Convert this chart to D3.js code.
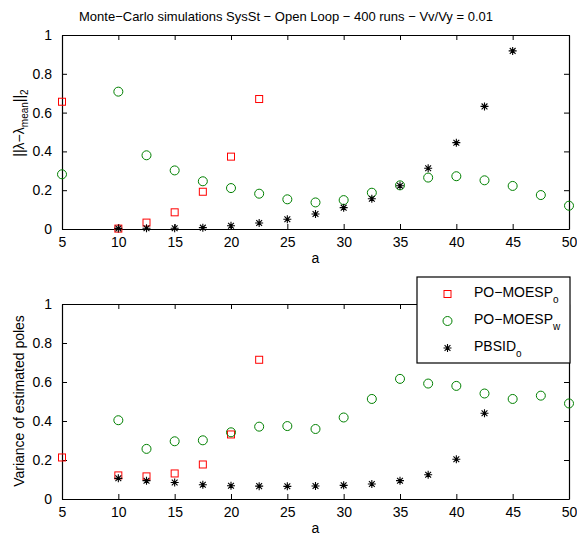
<!DOCTYPE html>
<html>
<head>
<meta charset="utf-8">
<title>Monte-Carlo simulations</title>
<script src="https://d3js.org/d3.v7.min.js"></script>
<style>
body { margin: 0; background: #fff; }
text { font-family: "Liberation Sans", Arial, sans-serif; fill: #000; }
</style>
</head>
<body>
<div id="chart"></div>
<script>

// horizon values a
var aVals = [5, 10, 12.5, 15, 17.5, 20, 22.5, 25, 27.5, 30, 32.5, 35, 37.5, 40, 42.5, 45, 47.5, 50];

// top panel: ||lambda - lambda_mean||_2
var normMoespO = [0.656, 0.002, 0.033, 0.086, 0.192, 0.373, 0.670, null, null, null, null, null, null, null, null, null, null, null];
var normMoespW = [0.282, 0.708, 0.380, 0.302, 0.246, 0.211, 0.182, 0.153, 0.137, 0.149, 0.187, 0.225, 0.265, 0.272, 0.251, 0.222, 0.175, 0.120];
var normPbsid  = [null, 0.003, 0.004, 0.004, 0.007, 0.017, 0.031, 0.050, 0.077, 0.110, 0.156, 0.223, 0.313, 0.445, 0.632, 0.918, null, null];

// bottom panel: variance of estimated poles
var varMoespO = [0.213, 0.121, 0.116, 0.131, 0.177, 0.331, 0.714, null, null, null, null, null, null, null, null, null, null, null];
var varMoespW = [null, 0.404, 0.257, 0.296, 0.301, 0.342, 0.371, 0.374, 0.359, 0.418, 0.513, 0.616, 0.592, 0.580, 0.541, 0.513, 0.530, 0.490];
var varPbsid  = [null, 0.106, 0.094, 0.085, 0.073, 0.068, 0.066, 0.065, 0.067, 0.070, 0.077, 0.094, 0.124, 0.204, 0.440, null, null, null];

var xTicks = [5, 10, 15, 20, 25, 30, 35, 40, 45, 50];
var yTicks = [0, 0.2, 0.4, 0.6, 0.8, 1];

var width = 577, height = 535;
var left = 62, right = 569;

var svg = d3.select("#chart").append("svg")
  .attr("width", width)
  .attr("height", height);

var x = d3.scaleLinear().domain([5, 50]).range([left, right]);

// marker drawers
function square(g, cx, cy) {
  g.append("rect").attr("x", cx - 3.5).attr("y", cy - 3.5)
    .attr("width", 7).attr("height", 7)
    .attr("fill", "none").attr("stroke", "#ff0000").attr("stroke-width", 1);
}
function circle(g, cx, cy) {
  g.append("circle").attr("cx", cx).attr("cy", cy).attr("r", 4.5)
    .attr("fill", "none").attr("stroke", "#008000").attr("stroke-width", 1);
}
function star(g, cx, cy) {
  var r = 4, d = 2.9;
  g.append("path")
    .attr("d", "M" + (cx - r) + "," + cy + "H" + (cx + r) +
               "M" + cx + "," + (cy - r) + "V" + (cy + r) +
               "M" + (cx - d) + "," + (cy - d) + "L" + (cx + d) + "," + (cy + d) +
               "M" + (cx - d) + "," + (cy + d) + "L" + (cx + d) + "," + (cy - d))
    .attr("stroke", "#000").attr("stroke-width", 1.1).attr("fill", "none");
}

function panel(top, bottom, series, ylabel) {
  var y = d3.scaleLinear().domain([0, 1]).range([bottom, top]);
  var g = svg.append("g");

  g.append("rect").attr("x", left).attr("y", top)
    .attr("width", right - left).attr("height", bottom - top)
    .attr("fill", "#fff");

  var axB = g.append("g").attr("transform", "translate(0," + bottom + ")")
    .call(d3.axisBottom(x).tickValues(xTicks).tickSizeInner(-5).tickSizeOuter(0).tickPadding(8).tickFormat(d3.format("d")));
  var axT = g.append("g").attr("transform", "translate(0," + top + ")")
    .call(d3.axisTop(x).tickValues(xTicks).tickSizeInner(-5).tickSizeOuter(0).tickFormat(""));
  var axL = g.append("g").attr("transform", "translate(" + left + ",0)")
    .call(d3.axisLeft(y).tickValues(yTicks).tickSizeInner(-5).tickSizeOuter(0).tickPadding(10).tickFormat(function(d) { return d3.format("")(d); }));
  var axR = g.append("g").attr("transform", "translate(" + right + ",0)")
    .call(d3.axisRight(y).tickValues(yTicks).tickSizeInner(-5).tickSizeOuter(0).tickFormat(""));

  [axB, axT, axL, axR].forEach(function(a) {
    a.selectAll(".domain").attr("stroke", "#000").attr("stroke-width", 1.2);
    a.selectAll(".tick line").attr("stroke", "#000");
    a.selectAll("text").attr("font-size", 14).attr("font-family", "Liberation Sans, Arial, sans-serif").attr("fill", "#000");
  });

  series.forEach(function(s) {
    s.values.forEach(function(v, i) {
      if (v === null) return;
      s.draw(g, x(aVals[i]), y(v));
    });
  });

  g.append("text").attr("x", (left + right) / 2).attr("y", bottom + 34)
    .attr("text-anchor", "middle").attr("font-size", 14).text("a");

  return g;
}

svg.append("text").attr("x", 286).attr("y", 21)
  .attr("text-anchor", "middle").attr("font-size", 13)
  .text("Monte\u2212Carlo simulations SysSt \u2212 Open Loop \u2212 400 runs \u2212 Vv/Vy = 0.01");

panel(35, 229, [
  { values: normMoespO, draw: square },
  { values: normMoespW, draw: circle },
  { values: normPbsid,  draw: star }
]);

panel(304, 499, [
  { values: varMoespO, draw: square },
  { values: varMoespW, draw: circle },
  { values: varPbsid,  draw: star }
]);

// y labels
var yl1 = svg.append("text").attr("transform", "translate(24,123) rotate(-90)")
  .attr("text-anchor", "middle").attr("font-size", 14);
yl1.append("tspan").text("||\u03bb\u2212\u03bb");
yl1.append("tspan").attr("font-size", 10).attr("dy", 4).text("mean");
yl1.append("tspan").attr("dy", -4).text("||");
yl1.append("tspan").attr("font-size", 10).attr("dy", 4).text("2");

svg.append("text").attr("transform", "translate(24,401) rotate(-90)")
  .attr("text-anchor", "middle").attr("font-size", 14)
  .text("Variance of estimated poles");

// legend
var legendNames = [["PO\u2212MOESP", "o"], ["PO\u2212MOESP", "w"], ["PBSID", "o"]];
var legendDraw = [square, circle, star];
var lg = svg.append("g");
lg.append("rect").attr("x", 417).attr("y", 277).attr("width", 153).attr("height", 86)
  .attr("fill", "#fff").attr("stroke", "#000").attr("stroke-width", 1.2);
legendNames.forEach(function(n, i) {
  var cy = 294 + i * 27;
  legendDraw[i](lg, 447.5, cy);
  var t = lg.append("text").attr("x", 474).attr("y", cy + 3).attr("font-size", 14);
  t.append("tspan").text(n[0]);
  t.append("tspan").attr("font-size", 10).attr("dy", 6).text(n[1]);
});

</script>
</body>
</html>
